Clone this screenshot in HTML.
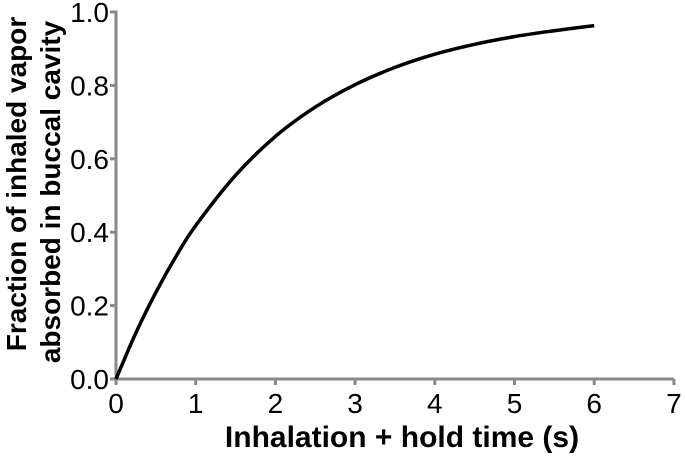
<!DOCTYPE html>
<html><head><meta charset="utf-8"><style>
html,body{margin:0;padding:0;background:#fff;}
svg{display:block;font-family:"Liberation Sans",Arial,sans-serif;}
</style></head><body>
<svg id="chart" width="685" height="457" viewBox="0 0 685 457" xmlns="http://www.w3.org/2000/svg">
<g id="axes"></g>
<g id="series"></g>
<text x="402" y="447" text-anchor="middle" style="font-size:30px;font-weight:bold" fill="#000">Inhalation + hold time (s)</text>
<text transform="translate(26,184) rotate(-90)" text-anchor="middle" style="font-size:28px;font-weight:bold" fill="#000">Fraction of inhaled vapor</text>
<text transform="translate(60,192) rotate(-90)" text-anchor="middle" style="font-size:28px;font-weight:bold" fill="#000">absorbed in buccal cavity</text>
</svg>
<script>
const xTicks = [0,1,2,3,4,5,6,7];
const yTicks = [0,0.2,0.4,0.6,0.8,1.0];
const yTickLabels = ["0.0","0.2","0.4","0.6","0.8","1.0"];
const times = [0,0.25,0.5,0.75,1,1.5,2,2.5,3,3.5,4,4.5,5,5.5,6];
const fractions = [0,0.126,0.236,0.333,0.418,0.555,0.661,0.741,0.802,0.849,0.885,0.912,0.933,0.949,0.963];

const X0=116, XS=79.7, Y0=379, YS=367;
function xs(t){return X0+XS*t;}
function ys(v){return Y0-YS*v;}
const NS="http://www.w3.org/2000/svg";
const axes=document.getElementById('axes');
function mk(tag,attrs,parent){const e=document.createElementNS(NS,tag);for(const k in attrs)e.setAttribute(k,attrs[k]);parent.appendChild(e);return e;}
const ax=mk('line',{x1:X0,y1:Y0,x2:xs(7),y2:Y0,stroke:'#888',"stroke-width":3},axes);


const ay=mk('line',{x1:X0,y1:Y0,x2:X0,y2:ys(1)-1.5,stroke:'#888',"stroke-width":3},axes);


xTicks.forEach(t=>{
  const l=mk('line',{x1:xs(t),y1:Y0,x2:xs(t),y2:Y0+6,stroke:'#888',"stroke-width":3},axes);
  
  
  const tx=mk('text',{x:xs(t),y:Y0+34,"text-anchor":"middle",style:"font-size:28px",fill:"#000"},axes);
  tx.textContent=t;
  
  
});
yTicks.forEach((v,i)=>{
  const l=mk('line',{x1:X0-6,y1:ys(v),x2:X0,y2:ys(v),stroke:'#888',"stroke-width":3},axes);
  
  
  const tx=mk('text',{x:X0-7,y:ys(v)+10,"text-anchor":"end",style:"font-size:28px",fill:"#000"},axes);
  tx.textContent=yTickLabels[i];
  
  
});
const pts=times.map((t,i)=>[xs(t),ys(fractions[i])]);
let d='M'+pts[0][0]+','+pts[0][1];
for(let i=0;i<pts.length-1;i++){
  const p0=pts[Math.max(0,i-1)],p1=pts[i],p2=pts[i+1],p3=pts[Math.min(pts.length-1,i+2)];
  const c1=[p1[0]+(p2[0]-p0[0])/6,p1[1]+(p2[1]-p0[1])/6];
  const c2=[p2[0]-(p3[0]-p1[0])/6,p2[1]-(p3[1]-p1[1])/6];
  d+=' C'+c1[0]+','+c1[1]+' '+c2[0]+','+c2[1]+' '+p2[0]+','+p2[1];
}
const path=mk('path',{d:d,fill:'none',stroke:'#000',"stroke-width":3.5},document.getElementById('series'));


</script>
</body></html>
